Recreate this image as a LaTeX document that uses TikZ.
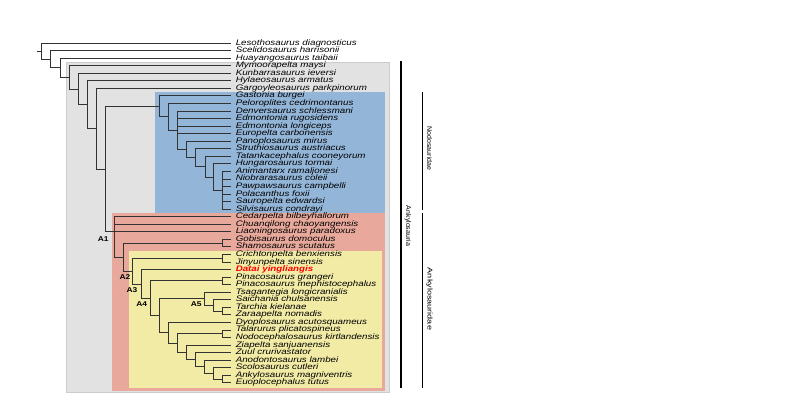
\documentclass[tikz,border=0pt]{standalone}
\usepackage{fontspec}
\setmainfont{Liberation Sans}
\definecolor{ankygray}{RGB}{226,226,226}
\definecolor{nodoblue}{RGB}{147,181,216}
\definecolor{ankypink}{RGB}{232,169,156}
\definecolor{ankyyellow}{RGB}{241,235,166}

\begin{document}
\begin{tikzpicture}[x=1pt, y=-1pt,
	branch/.style={draw=black!80, line width=0.75pt},
	taxon/.style={anchor=west, inner xsep=3.7pt, inner ysep=0pt, text height=5.6pt, text depth=1.5pt, xscale=1.22, font=\fontsize{8}{9}\selectfont\itshape},
	newtaxon/.style={taxon, text=red, font=\fontsize{8}{9}\selectfont\bfseries\itshape},
	nodelabel/.style={inner sep=0pt, xscale=1.2, font=\fontsize{7}{8}\selectfont\bfseries},
	cladebar/.style={draw=black, line width=1.6pt},
	cladename/.style={rotate=-90, inner sep=0pt, font=\fontsize{7}{8}\selectfont}]

	\useasboundingbox (0, 0) rectangle (800, 416);
	\fill[white] (0, 0) rectangle (800, 416);

	\filldraw[fill=ankygray, draw=black!20] (65.7, 62.3) rectangle (389.3, 392.5);
	\fill[nodoblue] (155, 92) rectangle (385, 212.5);
	\fill[ankypink] (112.3, 212.5) rectangle (385, 390.7);
	\fill[ankyyellow] (129, 250.7) rectangle (381.5, 387.5);

	\node[taxon] (lesotho) at (231, 43) {Lesothosaurus diagnosticus};
	\node[taxon] (scelido) at (231, 50.55) {Scelidosaurus harrisonii};
	\node[taxon] (huayang) at (231, 58.1) {Huayangosaurus taibaii};
	\node[taxon] (mymoor) at (231, 65.65) {Mymoorapelta maysi};
	\node[taxon] (kunbarra) at (231, 73.2) {Kunbarrasaurus ieversi};
	\node[taxon] (hylaeo) at (231, 80.75) {Hylaeosaurus armatus};
	\node[taxon] (gargoyl) at (231, 88.3) {Gargoyleosaurus parkpinorum};
	\node[taxon] (gaston) at (231, 95.85) {Gastonia burgei};
	\node[taxon] (pelorop) at (231, 103.4) {Peloroplites cedrimontanus};
	\node[taxon] (denver) at (231, 110.95) {Denversaurus schlessmani};
	\node[taxon] (edmrug) at (231, 118.5) {Edmontonia rugosidens};
	\node[taxon] (edmlong) at (231, 126.05) {Edmontonia longiceps};
	\node[taxon] (europel) at (231, 133.6) {Europelta carbonensis};
	\node[taxon] (panoplo) at (231, 141.15) {Panoplosaurus mirus};
	\node[taxon] (struthio) at (231, 148.7) {Struthiosaurus austriacus};
	\node[taxon] (tatanka) at (231, 156.25) {Tatankacephalus cooneyorum};
	\node[taxon] (hungaro) at (231, 163.8) {Hungarosaurus tormai};
	\node[taxon] (animant) at (231, 171.35) {Animantarx ramaljonesi};
	\node[taxon] (niobrar) at (231, 178.9) {Niobrarasaurus coleii};
	\node[taxon] (pawpaw) at (231, 186.45) {Pawpawsaurus campbelli};
	\node[taxon] (polacan) at (231, 194) {Polacanthus foxii};
	\node[taxon] (sauropel) at (231, 201.55) {Sauropelta edwardsi};
	\node[taxon] (silvis) at (231, 209.1) {Silvisaurus condrayi};
	\node[taxon] (cedarp) at (231, 216.65) {Cedarpelta bilbeyhallorum};
	\node[taxon] (chuanq) at (231, 224.2) {Chuanqilong chaoyangensis};
	\node[taxon] (liaon) at (231, 231.75) {Liaoningosaurus paradoxus};
	\node[taxon] (gobis) at (231, 239.3) {Gobisaurus domoculus};
	\node[taxon] (shamos) at (231, 246.85) {Shamosaurus scutatus};
	\node[taxon] (crichton) at (231, 254.4) {Crichtonpelta benxiensis};
	\node[taxon] (jinyun) at (231, 261.95) {Jinyunpelta sinensis};
	\node[newtaxon] (datai) at (231, 269.5) {Datai yingliangis};
	\node[taxon] (pingran) at (231, 277.05) {Pinacosaurus grangeri};
	\node[taxon] (pinmeph) at (231, 284.6) {Pinacosaurus mephistocephalus};
	\node[taxon] (tsagan) at (231, 292.15) {Tsagantegia longicranialis};
	\node[taxon] (saichan) at (231, 299.7) {Saichania chulsanensis};
	\node[taxon] (tarchia) at (231, 307.25) {Tarchia kielanae};
	\node[taxon] (zaraap) at (231, 314.8) {Zaraapelta nomadis};
	\node[taxon] (dyoplo) at (231, 322.35) {Dyoplosaurus acutosquameus};
	\node[taxon] (talarur) at (231, 329.9) {Talarurus plicatospineus};
	\node[taxon] (nodoceph) at (231, 337.45) {Nodocephalosaurus kirtlandensis};
	\node[taxon] (ziapel) at (231, 345) {Ziapelta sanjuanensis};
	\node[taxon] (zuul) at (231, 352.55) {Zuul crurivastator};
	\node[taxon] (anodont) at (231, 360.1) {Anodontosaurus lambei};
	\node[taxon] (scolos) at (231, 367.65) {Scolosaurus cutleri};
	\node[taxon] (ankylo) at (231, 375.2) {Ankylosaurus magniventris};
	\node[taxon] (euoplo) at (231, 382.75) {Euoplocephalus tutus};

	\coordinate (rootstub) at (37.3, 51.05);
	\coordinate (n42) at (41.7, 51.05);
	\coordinate (n51) at (50.7, 59.1);
	\coordinate (n60) at (60, 67.7);
	\coordinate (n69) at (69, 77.3);
	\coordinate (n78) at (78.3, 88.95);
	\coordinate (n87) at (87.3, 104.7);
	\coordinate (n96) at (96.3, 128.65);
	\coordinate (n105) at (105, 169);

	\coordinate (nodo) at (159, 106.3);
	\coordinate (n168n) at (168.3, 116.8);
	\coordinate (n177n) at (177.3, 130.2);
	\coordinate (n186n) at (186.7, 149.4);
	\coordinate (n195n) at (195.7, 157.65);
	\coordinate (n205n) at (205, 166.6);
	\coordinate (n213n) at (213.3, 177);
	\coordinate (n222n) at (222, 190.2);

	\coordinate (a1) at (114, 231.75);
	\coordinate (n123) at (123.3, 257.1);
	\coordinate (n222gs) at (222, 243.1);
	\coordinate (a2) at (132.7, 271.05);
	\coordinate (n222cj) at (222, 258.2);
	\coordinate (a3) at (141.7, 283.9);
	\coordinate (a4) at (150.7, 298.25);
	\coordinate (n222pin) at (222, 280.8);
	\coordinate (n159) at (159.3, 315.7);
	\coordinate (a5) at (204.3, 298.75);
	\coordinate (n213s) at (213.3, 305.35);
	\coordinate (n222tz) at (222, 311);
	\coordinate (n168) at (168.3, 332.7);
	\coordinate (n177) at (177.3, 343);
	\coordinate (n222tn) at (222, 333.7);
	\coordinate (n186) at (186.7, 352.3);
	\coordinate (n195) at (195.7, 359.6);
	\coordinate (n204) at (204.3, 366.7);
	\coordinate (n213) at (213.3, 373.3);
	\coordinate (n222ae) at (222, 379);

	\draw[branch] (rootstub) -- (n42);
	\draw[branch] (n42) |- (lesotho.west);
	\draw[branch] (n42) |- (n51);
	\draw[branch] (n51) |- (scelido.west);
	\draw[branch] (n51) |- (n60);
	\draw[branch] (n60) |- (huayang.west);
	\draw[branch] (n60) |- (n69);
	\draw[branch] (n69) |- (mymoor.west);
	\draw[branch] (n69) |- (n78);
	\draw[branch] (n78) |- (kunbarra.west);
	\draw[branch] (n78) |- (n87);
	\draw[branch] (n87) |- (hylaeo.west);
	\draw[branch] (n87) |- (n96);
	\draw[branch] (n96) |- (gargoyl.west);
	\draw[branch] (n96) |- (n105);
	\draw[branch] (n105) |- (nodo);
	\draw[branch] (n105) |- (a1);

	\draw[branch] (nodo) |- (gaston.west);
	\draw[branch] (nodo) |- (n168n);
	\draw[branch] (n168n) |- (pelorop.west);
	\draw[branch] (n168n) |- (n177n);
	\draw[branch] (n177n) |- (denver.west);
	\draw[branch] (n177n) |- (edmrug.west);
	\draw[branch] (n177n) |- (edmlong.west);
	\draw[branch] (n177n) |- (europel.west);
	\draw[branch] (n177n) |- (n186n);
	\draw[branch] (n186n) |- (panoplo.west);
	\draw[branch] (n186n) |- (n195n);
	\draw[branch] (n195n) |- (struthio.west);
	\draw[branch] (n195n) |- (n205n);
	\draw[branch] (n205n) |- (tatanka.west);
	\draw[branch] (n205n) |- (n213n);
	\draw[branch] (n213n) |- (hungaro.west);
	\draw[branch] (n213n) |- (n222n);
	\draw[branch] (n222n) |- (animant.west);
	\draw[branch] (n222n) |- (niobrar.west);
	\draw[branch] (n222n) |- (pawpaw.west);
	\draw[branch] (n222n) |- (polacan.west);
	\draw[branch] (n222n) |- (sauropel.west);
	\draw[branch] (n222n) |- (silvis.west);

	\draw[branch] (a1) |- (cedarp.west);
	\draw[branch] (a1) |- (chuanq.west);
	\draw[branch] (a1) |- (liaon.west);
	\draw[branch] (a1) |- (n123);
	\draw[branch] (n123) |- (n222gs);
	\draw[branch] (n123) |- (a2);
	\draw[branch] (n222gs) |- (gobis.west);
	\draw[branch] (n222gs) |- (shamos.west);
	\draw[branch] (a2) |- (n222cj);
	\draw[branch] (a2) |- (a3);
	\draw[branch] (n222cj) |- (crichton.west);
	\draw[branch] (n222cj) |- (jinyun.west);
	\draw[branch] (a3) |- (datai.west);
	\draw[branch] (a3) |- (a4);
	\draw[branch] (a4) |- (n222pin);
	\draw[branch] (a4) |- (n159);
	\draw[branch] (n222pin) |- (pingran.west);
	\draw[branch] (n222pin) |- (pinmeph.west);
	\draw[branch] (n159) |- (a5);
	\draw[branch] (n159) |- (n168);
	\draw[branch] (a5) |- (tsagan.west);
	\draw[branch] (a5) |- (n213s);
	\draw[branch] (n213s) |- (saichan.west);
	\draw[branch] (n213s) |- (n222tz);
	\draw[branch] (n222tz) |- (tarchia.west);
	\draw[branch] (n222tz) |- (zaraap.west);
	\draw[branch] (n168) |- (dyoplo.west);
	\draw[branch] (n168) |- (n177);
	\draw[branch] (n177) |- (n222tn);
	\draw[branch] (n177) |- (n186);
	\draw[branch] (n222tn) |- (talarur.west);
	\draw[branch] (n222tn) |- (nodoceph.west);
	\draw[branch] (n186) |- (ziapel.west);
	\draw[branch] (n186) |- (n195);
	\draw[branch] (n195) |- (zuul.west);
	\draw[branch] (n195) |- (n204);
	\draw[branch] (n204) |- (anodont.west);
	\draw[branch] (n204) |- (n213);
	\draw[branch] (n213) |- (scolos.west);
	\draw[branch] (n213) |- (n222ae);
	\draw[branch] (n222ae) |- (ankylo.west);
	\draw[branch] (n222ae) |- (euoplo.west);

	\node[nodelabel] (a1lab) at (103.3, 239.3) {A1};
	\node[nodelabel] (a2lab) at (125, 276.7) {A2};
	\node[nodelabel] (a3lab) at (131.9, 290) {A3};
	\node[nodelabel] (a4lab) at (141.7, 304.3) {A4};
	\node[nodelabel] (a5lab) at (196.3, 304.3) {A5};

	\coordinate (ankytop) at (400.7, 61);
	\coordinate (ankybot) at (400.7, 388.3);
	\coordinate (nodotop) at (422.3, 91.7);
	\coordinate (nodobot) at (422.3, 210);
	\coordinate (ankyidtop) at (422.3, 213.3);
	\coordinate (ankyidbot) at (422.3, 388.3);

	\draw[cladebar] (ankytop) -- (ankybot);
	\draw[cladebar] (nodotop) -- (nodobot);
	\draw[cladebar] (ankyidtop) -- (ankyidbot);

	\node[cladename] (ankyname) at (408, 226) {Ankylosauria};
	\node[cladename] (nodoname) at (429.5, 148.5) {Nodosauridae};
	\node[cladename, xscale=1.3] (ankyidname) at (429.5, 299) {Ankylosauridae};

\end{tikzpicture}
\end{document}
